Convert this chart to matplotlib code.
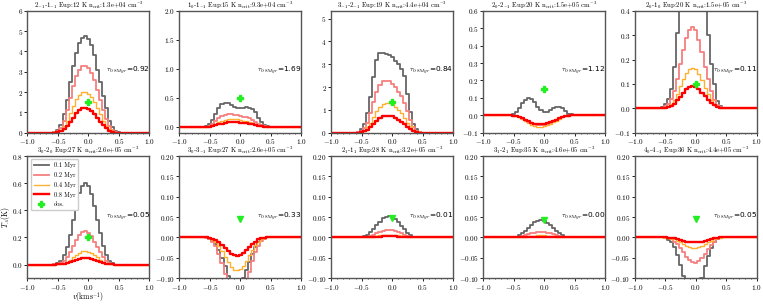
import numpy as np
import matplotlib
matplotlib.use("Agg")
import matplotlib.pyplot as plt
from matplotlib.lines import Line2D

plt.rcParams['font.family'] = 'serif'
plt.rcParams['font.serif'] = ['cmr10', 'DejaVu Serif']
plt.rcParams['mathtext.fontset'] = 'cm'
plt.rcParams['axes.formatter.use_mathtext'] = True
plt.rcParams['axes.unicode_minus'] = True

# velocity grid (km/s), channel width 0.05
v = np.round(np.linspace(-1.0, 1.0, 41), 2)
# non-zero part of each profile: v = -0.60 ... 0.60
titles = [r"$2_{-1}$-$1_{-1}$ Eup:12 K n$_{\rm crit}$:1.3e+04 cm$^{-3}$",
          r"$1_{0}$-$1_{-1}$ Eup:15 K n$_{\rm crit}$:9.3e+04 cm$^{-3}$",
          r"$3_{-1}$-$2_{-1}$ Eup:19 K n$_{\rm crit}$:4.4e+04 cm$^{-3}$",
          r"$2_{0}$-$2_{-1}$ Eup:20 K n$_{\rm crit}$:1.5e+05 cm$^{-3}$",
          r"$2_{0}$-$1_{0}$ Eup:20 K n$_{\rm crit}$:1.5e+05 cm$^{-3}$",
          r"$3_{0}$-$2_{0}$ Eup:27 K n$_{\rm crit}$:2.6e+05 cm$^{-3}$",
          r"$3_{0}$-$3_{-1}$ Eup:27 K n$_{\rm crit}$:2.6e+05 cm$^{-3}$",
          r"$2_{1}$-$1_{1}$ Eup:28 K n$_{\rm crit}$:3.2e+05 cm$^{-3}$",
          r"$3_{1}$-$2_{1}$ Eup:35 K n$_{\rm crit}$:4.6e+05 cm$^{-3}$",
          r"$4_{0}$-$4_{-1}$ Eup:36 K n$_{\rm crit}$:4.4e+05 cm$^{-3}$"]

tau = ["0.92", "1.69", "0.84", "1.12", "0.11", "0.05", "0.33", "0.01", "0.00", "0.05"]
obs_v = [0, 0, 0, 0, 0, 0, 0, 0, 0, 0]
obs_t = [1.5, 0.5, 1.35, 0.15, 0.1, 0.2, 0.045, 0.047, 0.044, 0.045]
obs_mk = ['P', 'P', 'P', 'P', 'P', 'P', 'v', 'v', 'v', 'v']
ylims = [(0, 6), (-0.1, 2.0), (0, 5.35), (-0.1, 0.6), (-0.1, 0.4),
         (-0.1, 0.8), (-0.1, 0.2), (-0.1, 0.2), (-0.1, 0.2), (-0.1, 0.2)]

t01 = [
    [0, 0.05, 0.15, 0.4, 0.9, 1.6, 2.5, 3.3, 3.9, 4.4, 4.65, 4.75, 4.6, 4.3, 3.8, 3.1, 2.5, 1.8, 1.2, 0.6, 0.3, 0.1, 0.03, 0, 0],
    [0, 0.01, 0.05, 0.12, 0.22, 0.33, 0.39, 0.42, 0.41, 0.38, 0.35, 0.33, 0.33, 0.33, 0.34, 0.33, 0.31, 0.25, 0.16, 0.08, 0.04, 0.01, 0, 0, 0],
    [0, 0.03, 0.15, 0.4, 0.85, 1.55, 2.45, 3.2, 3.5, 3.5, 3.45, 3.4, 3.3, 3.15, 3.0, 2.8, 2.5, 1.7, 0.9, 0.4, 0.15, 0.05, 0.01, 0, 0],
    [0, 0, 0.005, 0.02, 0.045, 0.07, 0.09, 0.1, 0.095, 0.075, 0.05, 0.03, 0.02, 0.02, 0.03, 0.04, 0.05, 0.05, 0.04, 0.025, 0.01, 0.005, 0, 0, 0],
    [0, 0.005, 0.02, 0.04, 0.08, 0.17, 0.31, 0.48, 0.62, 0.7, 0.72, 0.7, 0.65, 0.57, 0.47, 0.45, 0.3, 0.18, 0.1, 0.03, 0.01, 0.003, 0, 0, 0],
    [0, 0.003, 0.01, 0.03, 0.07, 0.13, 0.22, 0.33, 0.44, 0.53, 0.58, 0.6, 0.58, 0.52, 0.43, 0.33, 0.23, 0.14, 0.07, 0.03, 0.01, 0, 0, 0, 0],
    [0, 0, -0.003, -0.008, -0.016, -0.03, -0.05, -0.07, -0.095, -0.11, -0.115, -0.115, -0.112, -0.1, -0.08, -0.06, -0.04, -0.024, -0.012, -0.005, -0.002, 0, 0, 0, 0],
    [0, 0, 0.001, 0.003, 0.007, 0.013, 0.021, 0.03, 0.039, 0.047, 0.051, 0.052, 0.05, 0.045, 0.038, 0.029, 0.02, 0.012, 0.006, 0.002, 0.001, 0, 0, 0, 0],
    [0, 0, 0.001, 0.002, 0.005, 0.01, 0.017, 0.024, 0.031, 0.037, 0.041, 0.042, 0.04, 0.036, 0.03, 0.023, 0.016, 0.01, 0.005, 0.002, 0.001, 0, 0, 0, 0],
    [0, 0, -0.002, -0.006, -0.011, -0.023, -0.043, -0.067, -0.095, -0.125, -0.145, -0.15, -0.145, -0.125, -0.1, -0.07, -0.045, -0.025, -0.01, -0.004, -0.001, 0, 0, 0, 0],
]
t02 = [
    [0, 0.03, 0.1, 0.25, 0.6, 1.1, 1.7, 2.3, 2.8, 3.1, 3.3, 3.3, 3.2, 2.95, 2.6, 2.1, 1.6, 1.1, 0.7, 0.35, 0.15, 0.05, 0, 0, 0],
    [0, 0, 0.02, 0.05, 0.1, 0.15, 0.19, 0.21, 0.22, 0.22, 0.21, 0.2, 0.19, 0.18, 0.17, 0.15, 0.12, 0.09, 0.06, 0.03, 0.01, 0, 0, 0, 0],
    [0, 0.02, 0.08, 0.2, 0.45, 0.85, 1.35, 1.8, 2.1, 2.25, 2.28, 2.25, 2.15, 2.0, 1.8, 1.6, 1.3, 0.95, 0.55, 0.25, 0.1, 0.03, 0, 0, 0],
    [0, 0, -0.002, -0.005, -0.01, -0.018, -0.028, -0.038, -0.046, -0.052, -0.055, -0.056, -0.055, -0.05, -0.044, -0.036, -0.027, -0.018, -0.01, -0.005, -0.002, 0, 0, 0, 0],
    [0, 0.002, 0.008, 0.02, 0.04, 0.07, 0.12, 0.18, 0.24, 0.29, 0.32, 0.335, 0.32, 0.28, 0.23, 0.17, 0.12, 0.07, 0.035, 0.015, 0.005, 0, 0, 0, 0],
    [0, 0.001, 0.004, 0.012, 0.028, 0.055, 0.09, 0.135, 0.18, 0.215, 0.24, 0.245, 0.235, 0.21, 0.17, 0.13, 0.09, 0.055, 0.028, 0.012, 0.004, 0, 0, 0, 0],
    [0, -0.001, -0.004, -0.01, -0.02, -0.04, -0.062, -0.09, -0.12, -0.148, -0.165, -0.17, -0.165, -0.145, -0.115, -0.085, -0.058, -0.035, -0.02, -0.008, -0.003, 0, 0, 0, 0],
    [0, 0, 0, 0.001, 0.002, 0.004, 0.007, 0.01, 0.014, 0.017, 0.019, 0.019, 0.018, 0.016, 0.013, 0.01, 0.007, 0.004, 0.002, 0.001, 0, 0, 0, 0, 0],
    [0, 0, 0, 0.001, 0.002, 0.003, 0.005, 0.008, 0.01, 0.012, 0.014, 0.014, 0.013, 0.012, 0.01, 0.008, 0.005, 0.003, 0.002, 0.001, 0, 0, 0, 0, 0],
    [0, 0, -0.001, -0.002, -0.005, -0.01, -0.017, -0.026, -0.036, -0.047, -0.056, -0.061, -0.062, -0.058, -0.05, -0.04, -0.029, -0.019, -0.011, -0.005, -0.002, 0, 0, 0, 0],
]
t04 = [
    [0, 0.02, 0.05, 0.15, 0.35, 0.6, 0.95, 1.3, 1.65, 1.85, 2.0, 2.0, 1.9, 1.75, 1.5, 1.2, 0.9, 0.6, 0.35, 0.2, 0.08, 0.02, 0, 0, 0],
    [0, 0, 0.01, 0.03, 0.05, 0.08, 0.1, 0.12, 0.13, 0.13, 0.13, 0.13, 0.12, 0.11, 0.1, 0.09, 0.07, 0.05, 0.03, 0.02, 0.01, 0, 0, 0, 0],
    [0, 0.01, 0.04, 0.1, 0.25, 0.45, 0.7, 0.95, 1.15, 1.25, 1.3, 1.3, 1.25, 1.15, 1.0, 0.85, 0.65, 0.45, 0.28, 0.14, 0.06, 0.02, 0, 0, 0],
    [0, 0, -0.002, -0.006, -0.012, -0.021, -0.032, -0.043, -0.053, -0.06, -0.064, -0.065, -0.063, -0.058, -0.05, -0.04, -0.03, -0.02, -0.011, -0.005, -0.002, 0, 0, 0, 0],
    [0, 0.001, 0.004, 0.01, 0.02, 0.035, 0.06, 0.09, 0.12, 0.145, 0.16, 0.165, 0.16, 0.14, 0.115, 0.085, 0.06, 0.035, 0.018, 0.008, 0.003, 0, 0, 0, 0],
    [0, 0, 0.002, 0.005, 0.011, 0.022, 0.037, 0.055, 0.073, 0.088, 0.098, 0.1, 0.096, 0.086, 0.07, 0.053, 0.037, 0.022, 0.011, 0.005, 0.002, 0, 0, 0, 0],
    [0, 0, -0.002, -0.006, -0.012, -0.021, -0.033, -0.047, -0.06, -0.072, -0.079, -0.08, -0.078, -0.07, -0.058, -0.044, -0.031, -0.019, -0.01, -0.004, -0.001, 0, 0, 0, 0],
    [0, 0, 0, 0, 0.001, 0.001, 0.002, 0.003, 0.005, 0.006, 0.007, 0.007, 0.007, 0.006, 0.005, 0.004, 0.003, 0.002, 0.001, 0, 0, 0, 0, 0, 0],
    [0, 0, 0, 0, 0, 0.001, 0.002, 0.003, 0.004, 0.004, 0.005, 0.005, 0.005, 0.004, 0.004, 0.003, 0.002, 0.001, 0.001, 0, 0, 0, 0, 0, 0],
    [0, 0, -0.001, -0.002, -0.003, -0.005, -0.008, -0.012, -0.016, -0.02, -0.023, -0.025, -0.025, -0.023, -0.02, -0.016, -0.012, -0.008, -0.005, -0.002, -0.001, 0, 0, 0, 0],
]
t08 = [
    [0, 0.01, 0.03, 0.08, 0.2, 0.35, 0.55, 0.75, 0.95, 1.1, 1.2, 1.2, 1.15, 1.05, 0.9, 0.75, 0.55, 0.38, 0.22, 0.1, 0.04, 0.01, 0, 0, 0],
    [0, 0, 0.005, 0.015, 0.03, 0.045, 0.06, 0.07, 0.08, 0.08, 0.08, 0.08, 0.075, 0.07, 0.065, 0.055, 0.045, 0.03, 0.02, 0.01, 0.005, 0, 0, 0, 0],
    [0, 0.005, 0.02, 0.06, 0.13, 0.25, 0.38, 0.52, 0.64, 0.72, 0.75, 0.75, 0.72, 0.66, 0.58, 0.48, 0.37, 0.26, 0.16, 0.08, 0.03, 0.01, 0, 0, 0],
    [0, 0, -0.001, -0.004, -0.009, -0.016, -0.025, -0.034, -0.042, -0.047, -0.05, -0.05, -0.049, -0.045, -0.039, -0.032, -0.024, -0.016, -0.009, -0.004, -0.001, 0, 0, 0, 0],
    [0, 0, 0.002, 0.005, 0.01, 0.02, 0.033, 0.048, 0.064, 0.078, 0.087, 0.09, 0.087, 0.078, 0.065, 0.05, 0.035, 0.022, 0.012, 0.005, 0.002, 0, 0, 0, 0],
    [0, 0, 0.001, 0.002, 0.005, 0.01, 0.018, 0.027, 0.036, 0.044, 0.049, 0.05, 0.048, 0.043, 0.035, 0.026, 0.018, 0.011, 0.005, 0.002, 0.001, 0, 0, 0, 0],
    [0, 0, -0.001, -0.003, -0.006, -0.011, -0.018, -0.026, -0.034, -0.04, -0.044, -0.045, -0.044, -0.039, -0.032, -0.024, -0.016, -0.01, -0.005, -0.002, -0.001, 0, 0, 0, 0],
    [0, 0, 0, 0, 0, 0.001, 0.001, 0.002, 0.002, 0.003, 0.003, 0.003, 0.003, 0.003, 0.002, 0.002, 0.001, 0.001, 0, 0, 0, 0, 0, 0, 0],
    [0, 0, 0, 0, 0, 0, 0.001, 0.001, 0.002, 0.002, 0.002, 0.002, 0.002, 0.002, 0.002, 0.001, 0.001, 0, 0, 0, 0, 0, 0, 0, 0],
    [0, 0, 0, -0.001, -0.001, -0.002, -0.004, -0.006, -0.008, -0.01, -0.011, -0.012, -0.012, -0.011, -0.01, -0.008, -0.006, -0.004, -0.002, -0.001, 0, 0, 0, 0, 0],
]

series = [(t01, '#666666', 1.3, '0.1 Myr'),
          (t02, '#f47f7f', 1.3, '0.2 Myr'),
          (t04, '#ffb030', 1.0, '0.4 Myr'),
          (t08, '#ff0000', 1.7, '0.8 Myr')]


def pad(core):
    return np.concatenate([np.zeros(8), core, np.zeros(8)])


fig, axes = plt.subplots(2, 5, figsize=(7.63, 3.05), dpi=100)
fig.subplots_adjust(left=0.036, right=0.992, bottom=0.088, top=0.965,
                    wspace=0.245, hspace=0.19)

for i, ax in enumerate(axes.flat):
    for data, col, lw, lab in series:
        ax.step(v, pad(data[i]), where='mid', color=col, lw=lw, label=lab)
    ax.plot(obs_v[i], obs_t[i], obs_mk[i], color='#22ee22', ms=5,
            mec='#22ee22', label='obs.')
    ax.set_xlim(-1, 1)
    ax.set_ylim(*ylims[i])
    ax.set_xticks([-1.0, -0.5, 0.0, 0.5, 1.0])
    ax.xaxis.set_minor_locator(matplotlib.ticker.MultipleLocator(0.1))
    ax.tick_params(labelsize=5.2, length=2, width=0.6, pad=1.2)
    ax.tick_params(which='minor', length=1.0, width=0.5)
    for s in ax.spines.values():
        s.set_color('#555555')
        s.set_linewidth(1.0)
    ax.set_title(titles[i], fontsize=4.8, pad=1.5)
    ax.text(0.64, 0.51, r"$\tau_{0.8Myr}$=" + tau[i], transform=ax.transAxes,
            fontsize=5.3, ha='left', va='center', family='DejaVu Sans')

axes[1, 0].set_ylabel(r"$T_A$(K)", fontsize=5.5)
axes[1, 0].set_xlabel(r"$v$(kms$^{-1}$)", fontsize=5.5)
axes[1, 0].yaxis.set_label_coords(-0.13, 0.5)
axes[1, 0].xaxis.set_label_coords(0.5, -0.1)
handles = [Line2D([], [], color=c, lw=lw) for _, c, lw, _ in series]
handles.append(Line2D([], [], ls='none', marker='P', color='#22ee22', ms=5))
labels = [s[3] for s in series] + ['obs.']
axes[1, 0].legend(handles, labels, loc='upper left', fontsize=4.5,
                  handlelength=2.4, labelspacing=0.6, borderpad=0.5,
                  framealpha=1, edgecolor='#cccccc')

fig.savefig("out.png", dpi=100)
